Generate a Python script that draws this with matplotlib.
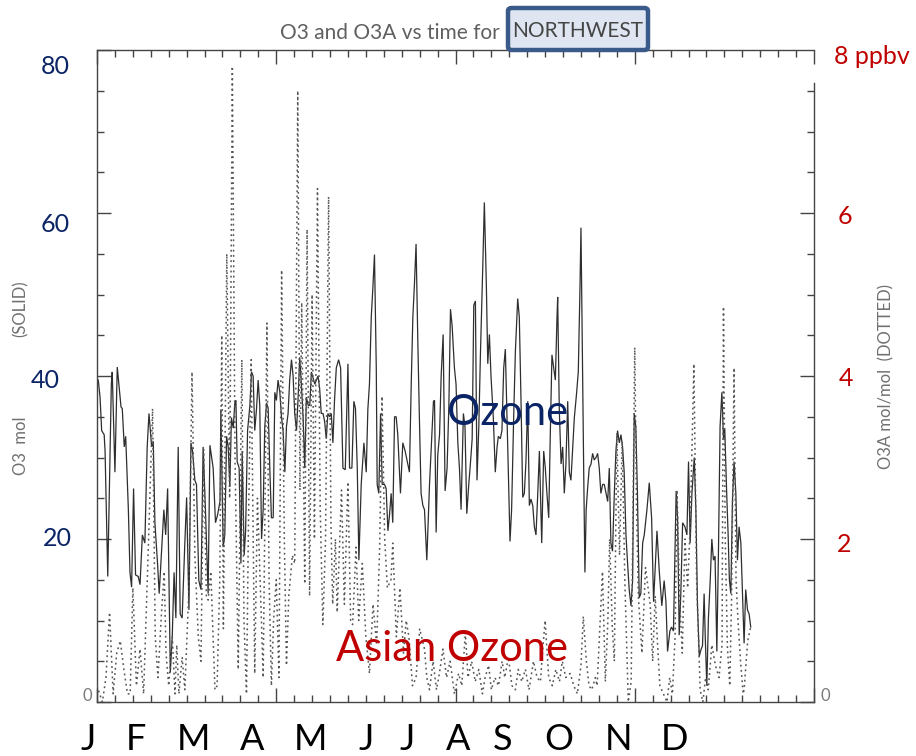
import matplotlib
matplotlib.use('Agg')
import matplotlib.pyplot as plt
from matplotlib.patches import FancyBboxPatch
from matplotlib.ticker import MultipleLocator, FixedLocator

# daily O3 (ppb) for the NORTHWEST region, day of year
o3_day = [0.7, 1.7, 2.6, 4.0, 4.5, 6.0, 8.0, 8.5, 10.0, 11.3, 13.4, 14.1, 15.2, 16.0, 17.5, 18.4, 19.3, 20.4,
          21.5, 23.0, 24.0, 25.3, 26.7, 28.0, 29.0, 30.5, 31.4, 32.3, 33.8, 34.7, 36.0, 37.3, 38.3, 39.4,
          40.9, 42.0, 43.0, 44.0, 45.3, 46.4, 47.5, 49.0, 50.0, 51.3, 52.4, 53.3, 54.6, 55.5, 56.8, 58.0,
          59.2, 60.5, 62.0, 63.0, 64.8, 66.1, 67.3, 68.6, 69.1, 70.4, 71.3, 72.3, 73.2, 74.1, 75.0, 76.0,
          76.9, 77.5, 78.2, 79.3, 80.3, 81.0, 82.1, 82.9, 84.0, 85.3, 86.2, 87.1, 88.0, 89.0, 89.9, 90.8,
          91.8, 92.7, 93.6, 94.6, 95.5, 96.4, 97.3, 98.3, 99.2, 100.1, 101.0, 102.0, 102.9, 103.8, 104.8,
          105.7, 106.6, 107.5, 108.5, 109.4, 110.3, 111.3, 112.2, 113.1, 114.0, 115.0, 115.9, 116.8, 117.8,
          118.7, 119.6, 121.5, 123.3, 124.2, 125.1, 126.1, 127.0, 127.9, 128.8, 129.8, 130.7, 131.6, 132.5,
          133.5, 134.8, 135.9, 137.2, 138.5, 140.0, 140.9, 142.2, 143.3, 144.2, 145.2, 146.1, 147.4, 148.9,
          150.2, 151.1, 152.0, 153.0, 153.9, 154.8, 155.8, 156.3, 157.2, 158.2, 159.1, 160.4, 161.3, 162.3,
          163.2, 164.1, 165.0, 166.0, 166.9, 167.8, 169.3, 170.6, 171.9, 173.4, 174.3, 175.3, 176.2, 177.1,
          178.0, 179.0, 179.9, 180.8, 181.8, 182.7, 184.0, 185.5, 186.8, 187.7, 188.3, 189.2, 190.1, 191.1,
          192.0, 193.1, 194.2, 195.3, 196.3, 197.2, 198.1, 199.4, 200.3, 201.3, 202.2, 203.1, 204.4, 205.3,
          206.3, 207.4, 208.3, 209.3, 210.2, 211.1, 212.0, 213.0, 213.9, 215.2, 216.1, 217.2, 218.0, 218.9,
          219.8, 221.1, 222.2, 223.2, 223.9, 225.0, 225.9, 226.9, 227.8, 228.7, 229.7, 230.4, 231.3, 232.5,
          233.4, 234.7, 235.6, 236.6, 237.5, 238.4, 239.3, 240.3, 241.2, 242.1, 243.1, 244.0, 244.9, 245.8,
          246.8, 248.1, 249.2, 250.1, 251.0, 252.0, 252.9, 253.8, 254.8, 255.7, 256.6, 257.0, 257.9, 258.9,
          259.8, 260.7, 261.6, 262.6, 263.5, 264.4, 265.4, 266.3, 267.6, 268.5, 269.4, 270.0, 270.7, 271.5,
          272.2, 272.9, 273.7, 274.6, 275.6, 276.5, 277.4, 278.4, 279.3, 280.2, 281.1, 282.1, 283.0, 284.0,
          284.9, 285.8, 286.7, 287.6, 288.6, 289.5, 290.4, 291.4, 292.3, 293.2, 294.1, 295.1, 296.0, 296.9,
          297.9, 298.8, 299.7, 300.6, 301.5, 302.5, 303.4, 304.4, 305.3, 306.8, 308.1, 309.4, 310.5, 311.4,
          312.4, 313.7, 315.1, 316.4, 317.4, 318.3, 319.6, 320.5, 321.6, 323.1, 323.9, 324.8, 325.7, 326.7,
          328.0, 329.1, 330.0, 330.9, 331.9, 333.2, 334.1, 335.0, 336.0, 336.9, 337.8, 338.7, 339.3, 340.2,
          341.1, 342.1, 343.0, 343.9, 344.8, 345.8, 346.7, 347.6, 348.6, 349.5, 350.2, 351.2, 352.1, 352.8,
          353.6, 354.5, 355.4, 356.4, 357.3, 358.2, 359.2, 360.1, 361.0, 361.9, 362.9, 363.8, 364.7]
o3_ppb = [39.5, 37.4, 33.3, 32.8, 30.8, 15.4, 39.0, 40.5, 28.2, 41.1, 36.2, 36.0, 31.3, 32.6, 23.6, 15.9, 14.1, 26.2,
          15.6, 15.4, 14.4, 20.5, 19.5, 31.3, 35.4, 31.3, 32.0, 22.0, 16.9, 13.3, 18.5, 23.6, 20.5, 26.2,
          3.6, 8.2, 15.9, 10.3, 31.3, 10.8, 10.3, 19.5, 25.1, 11.3, 31.8, 30.8, 27.2, 26.7, 14.9, 13.8,
          31.3, 23.6, 13.3, 31.5, 28.7, 22.0, 23.0, 24.6, 35.9, 19.0, 20.5, 32.6, 31.3, 26.4, 34.9, 33.6,
          36.7, 37.0, 29.5, 28.7, 17.0, 30.8, 18.0, 21.0, 33.3, 36.4, 40.5, 40.0, 33.3, 36.0, 39.5, 36.4,
          20.0, 23.6, 33.8, 36.7, 36.0, 28.7, 22.6, 22.6, 38.0, 37.0, 39.5, 38.0, 35.0, 33.3, 28.2,
          33.8, 35.4, 39.5, 42.0, 40.0, 35.4, 33.3, 37.4, 42.3, 39.0, 34.9, 28.7, 37.4, 36.4,
          36.4, 40.5, 39.0, 40.0, 38.5, 35.4, 35.4, 34.4, 32.3, 35.4, 35.0, 35.4, 31.8, 37.0,
          41.0, 42.0, 41.0, 28.7, 28.5, 41.5, 28.7, 28.7, 36.9, 36.0, 28.7, 17.4, 26.7, 31.8,
          28.2, 35.9, 39.0, 47.2, 50.8, 54.9, 41.0, 26.7, 25.6, 35.4, 26.7, 26.7, 26.2, 21.0,
          23.0, 25.6, 22.0, 35.0, 35.0, 32.8, 25.6, 31.8, 30.8, 29.2, 28.2, 39.0, 47.2, 51.3,
          56.2, 44.0, 34.4, 25.6, 24.1, 23.6, 17.4, 26.7, 32.8, 36.9, 37.0, 20.8, 30.3, 32.8,
          40.0, 45.1, 25.9, 28.7, 36.4, 48.2, 46.2, 41.0, 39.0, 31.8, 28.7, 23.6, 35.4, 33.8,
          23.1, 26.7, 29.2, 32.3, 48.7, 49.2, 27.2, 33.8, 42.6, 53.3, 61.3, 51.3, 41.5, 45.1,
          40.0, 34.9, 28.2, 31.3, 32.6, 32.3, 33.3, 41.0, 43.3, 35.4, 26.2, 19.7, 23.6, 35.4,
          43.0, 49.5, 47.2, 36.4, 25.1, 25.6, 29.5, 36.9, 24.1, 24.9, 24.1, 21.5, 20.5, 25.1,
          30.8, 19.5, 30.8, 28.7, 25.6, 22.6, 33.0, 42.6, 41.0, 39.5, 47.0, 49.7, 35.9, 29.2,
          31.3, 25.6, 29.2, 36.9, 28.2, 27.2, 31.3, 34.9, 38.0, 40.5, 50.3, 58.2, 44.1, 28.7,
          15.9, 23.6, 26.2, 28.7, 29.2, 30.5, 29.7, 30.0, 30.5, 28.7, 25.6, 26.7, 26.7, 25.6,
          24.6, 28.7, 19.5, 18.5, 25.6, 30.8, 33.3, 31.8, 32.8, 31.3, 28.2, 20.5, 17.0, 13.8,
          11.8, 14.9, 35.4, 33.8, 25.6, 12.8, 13.3, 19.5, 20.5, 23.6, 26.9, 22.6, 12.3, 16.4,
          21.0, 16.0, 11.8, 14.9, 12.3, 6.2, 8.7, 9.2, 8.7, 25.9, 22.6, 8.2, 13.3, 22.0,
          21.5, 20.5, 29.5, 19.5, 25.6, 30.0, 23.6, 11.8, 5.6, 6.4, 6.9, 13.3, 8.2, 2.0,
          10.3, 14.9, 20.0, 17.4, 17.9, 6.2, 18.5, 33.8, 38.0, 32.3, 33.6, 26.2, 20.5, 15.0,
          13.3, 24.6, 29.5, 25.6, 17.4, 21.5, 19.5, 13.3, 7.2, 13.8, 11.3, 10.8, 9.2]

# Asian-origin O3 tracer (ppbv)
o3a_day = [0.0, 3.0, 5.0, 7.0, 9.0, 11.0, 13.0, 15.0, 17.0, 18.5, 20.0, 22.0, 24.0, 26.0, 28.5, 31.0, 32.5,
           34.0, 36.0, 37.5, 38.5, 40.0, 42.0, 43.5, 44.5, 45.7, 47.5, 49.0, 51.3, 53.0, 54.6, 56.5, 58.0,
           59.5, 61.0, 62.0, 63.5, 65.8, 67.0, 68.5, 69.6, 70.5, 72.4, 74.0, 75.5, 77.0, 78.8, 80.8, 82.0,
           83.4, 84.5, 86.0, 88.0, 89.5, 91.0, 92.7, 94.8, 96.0, 97.3, 98.5, 100.0, 101.5, 103.0, 104.5,
           105.7, 107.0, 109.0, 110.3, 112.0, 113.2, 114.2, 115.9, 117.2, 118.6, 120.0, 121.3, 123.0, 124.5,
           126.0, 127.5, 129.2, 130.5, 131.5, 133.0, 134.0, 136.4, 138.0, 140.0, 141.5, 142.6, 144.5, 146.0,
           148.0, 150.0, 152.0, 154.0, 156.0, 157.7, 159.0, 160.5, 162.0, 164.0, 165.0, 167.0, 169.0, 171.0,
           172.5, 174.0, 176.0, 178.0, 180.0, 182.7, 184.0, 185.5, 187.5, 189.4, 191.0, 193.0, 195.0, 197.0,
           199.4, 201.7, 203.5, 205.5, 207.0, 209.0, 211.0, 213.0, 215.0, 216.5, 218.5, 220.0, 222.0, 224.0,
           226.0, 227.5, 229.5, 231.5, 233.4, 235.0, 237.0, 239.0, 241.0, 243.5, 245.5, 247.4, 248.5, 250.0,
           252.0, 254.0, 256.0, 258.0, 259.6, 261.5, 264.0, 266.0, 268.0, 270.0, 271.3, 273.0, 274.5, 276.0,
           278.0, 279.0, 280.5, 282.0, 283.6, 285.0, 286.0, 287.5, 288.6, 290.0, 291.5, 293.0, 294.5, 296.4,
           298.0, 300.0, 301.0, 302.0, 304.0, 306.0, 308.6, 310.0, 311.4, 312.5, 314.0, 316.0, 318.0, 319.5,
           321.0, 322.5, 323.6, 325.0, 326.5, 328.0, 329.5, 331.0, 333.0, 334.5, 336.5, 338.0, 339.5, 341.0,
           343.0, 345.0, 347.0, 348.7, 349.5, 350.5, 351.7, 353.0, 354.0, 355.4, 356.5, 357.6, 359.0, 360.5,
           361.0, 363.0, 364.7]
o3a_ppbv = [0.2, 0.0, 0.3, 1.1, 0.1, 0.6, 0.75, 0.4, 0.1, 0.1, 1.4, 0.2, 0.65, 0.1, 1.8, 3.6, 0.8,
            0.3, 1.1, 1.6, 0.6, 0.2, 0.8, 0.1, 0.7, 0.1, 0.55, 0.15, 1.4, 4.05, 1.8, 0.8, 0.5,
            3.1, 1.3, 1.25, 1.6, 0.15, 0.2, 1.5, 4.5, 0.9, 5.5, 2.5, 7.8, 3.0, 0.4, 4.2, 1.0,
            0.1, 2.2, 4.2, 0.35, 2.5, 1.5, 0.3, 4.65, 1.5, 0.2, 1.0, 1.5, 0.3, 5.3, 2.0,
            0.45, 1.3, 1.8, 1.7, 7.5, 2.6, 4.9, 1.45, 5.8, 1.3, 5.0, 2.0, 6.3, 2.4,
            0.95, 2.0, 6.2, 2.2, 1.2, 2.0, 1.1, 2.6, 1.2, 2.7, 1.0, 0.95, 1.9, 1.0,
            1.7, 0.8, 0.35, 1.2, 0.7, 1.9, 3.75, 2.0, 1.4, 1.5, 1.95, 0.8, 1.4, 0.6,
            1.0, 0.8, 0.2, 0.3, 0.9, 0.65, 0.3, 0.15, 0.5, 0.15, 0.35, 0.65, 0.3, 0.5,
            0.1, 0.35, 0.2, 0.85, 0.3, 0.5, 0.25, 0.4, 0.1, 0.3, 0.45, 0.15, 0.3, 0.2,
            0.5, 0.3, 0.55, 0.2, 0.15, 0.4, 0.25, 0.4, 0.15, 0.5, 0.3, 0.25, 0.6, 1.0,
            0.3, 0.2, 0.4, 0.25, 0.5, 0.3, 0.35, 0.2, 0.1, 0.45, 1.05, 0.5, 0.2, 0.15,
            0.3, 0.2, 0.9, 1.6, 0.25, 1.0, 2.0, 0.9, 0.5, 3.3, 1.8, 3.2, 1.46, 0.0,
            0.25, 4.35, 2.4, 1.3, 0.6, 1.65, 1.2, 0.5, 1.3, 0.8, 0.2, 0.1, 0.0, 0.3,
            0.1, 0.8, 2.6, 1.3, 0.6, 2.0, 1.4, 2.2, 4.15, 1.5, 0.15, 0.0, 0.3, 0.15,
            0.7, 0.45, 0.3, 0.7, 4.85, 2.0, 0.67, 0.2, 1.25, 4.1, 1.5, 1.0, 0.5, 0.1,
            0.15, 0.75, 0.92]

months = ['J', 'F', 'M', 'A', 'M', 'J', 'J', 'A', 'S', 'O', 'N', 'D']
month_px = [88, 136, 193, 252, 310, 366, 407, 458, 503, 559, 618, 675]
left_labels = ['80', '60', '40', '20']
left_label_px = [(55, 66), (55, 225), (45, 381), (57, 539)]
right_labels = ['8 ppbv', '6', '4', '2']
right_label_px = [(872, 56), (845, 217), (846, 379), (844, 545)]

W, H = 916, 756
NAVY = '#0b2466'
RED = '#c00000'
IDL_GRAY = '#606060'
AXCOL = '#444444'

fig = plt.figure(figsize=(W / 100, H / 100), dpi=100)


def fx(px):
    return px / W


def fy(py):
    return 1 - py / H


ax = fig.add_axes([fx(97), fy(702), (814 - 97) / W, (702 - 50) / H])
ax.set_xlim(0, 400)
ax.set_ylim(0, 80)
ax.plot(o3_day, o3_ppb, color='#2e2e2e', lw=0.9, solid_joinstyle='miter')

ax2 = ax.twinx()
ax2.set_ylim(0, 8)
ax2.plot(o3a_day, o3a_ppbv, color='#555555', lw=1.1, ls=(0, (1.2, 2.2)))

for s in ['left', 'top', 'bottom']:
    ax.spines[s].set_color(AXCOL)
    ax.spines[s].set_linewidth(1.0)
    ax2.spines[s].set_visible(False)
ax.spines['right'].set_visible(False)
ax2.spines['right'].set_color(AXCOL)
ax2.spines['right'].set_linewidth(1.0)
ax2.spines['right'].set_bounds(0, 7.6)

ax.xaxis.set_major_locator(MultipleLocator(100))
ax.xaxis.set_minor_locator(MultipleLocator(10))
ax.yaxis.set_major_locator(MultipleLocator(20))
ax.yaxis.set_minor_locator(MultipleLocator(5))
ax2.yaxis.set_major_locator(FixedLocator([0, 2, 4, 6]))
ax2.yaxis.set_minor_locator(FixedLocator([0.5 * i for i in range(16)]))

ax.tick_params(axis='both', which='both', direction='in', colors=AXCOL,
               top=True, bottom=True, left=True, right=False,
               labelbottom=False, labelleft=False)
ax.tick_params(which='major', length=10, width=1.0)
ax.tick_params(which='minor', length=5, width=1.0)
ax2.tick_params(axis='y', which='both', direction='in', colors=AXCOL, labelright=False)
ax2.tick_params(which='major', length=10, width=1.0)
ax2.tick_params(which='minor', length=5, width=1.0)

FONT = ['Lato', 'DejaVu Sans']

# title with the region name boxed
fig.text(fx(280), fy(33), 'O3 and O3A vs time for', color=IDL_GRAY, fontsize=15,
         family=FONT, ha='left', va='center')
box = FancyBboxPatch((fx(508), fy(50)), (648 - 508) / W, (50 - 8) / H,
                     boxstyle='round,pad=0,rounding_size=0.004', transform=fig.transFigure,
                     fc='#dfe6f1', ec='#3a5a8a', lw=3.2, zorder=5)
fig.patches.append(box)
fig.text(fx(578), fy(31), 'NORTHWEST', color='#454545', fontsize=15, family=FONT,
         ha='center', va='center', zorder=6)

# axis titles
fig.text(fx(21), fy(446), 'O3  mol', rotation=90, color='#707070', fontsize=12,
         family=FONT, ha='center', va='center')
fig.text(fx(21), fy(309), '(SOLID)', rotation=90, color='#707070', fontsize=12,
         family=FONT, ha='center', va='center')
fig.text(fx(886), fy(377), 'O3A mol/mol  (DOTTED)', rotation=90, color='#707070', fontsize=12,
         family=FONT, ha='center', va='center')

# tick value labels
for lab, (px, py) in zip(left_labels, left_label_px):
    fig.text(fx(px), fy(py), lab, color=NAVY, fontsize=18, family=FONT, ha='center', va='center')
for lab, (px, py) in zip(right_labels, right_label_px):
    fig.text(fx(px), fy(py), lab, color=RED, fontsize=18, family=FONT, ha='center', va='center')
fig.text(fx(87), fy(696), '0', color='#7a7a7a', fontsize=12, family=FONT, ha='center', va='center')
fig.text(fx(825), fy(696), '0', color='#7a7a7a', fontsize=12, family=FONT, ha='center', va='center')

for m, px in zip(months, month_px):
    fig.text(fx(px), fy(740), m, color='black', fontsize=26, family=FONT, ha='center', va='center')

fig.text(fx(508), fy(413), 'Ozone', color=NAVY, fontsize=30, family=FONT, ha='center', va='center')
fig.text(fx(452), fy(649), 'Asian Ozone', color=RED, fontsize=30, family=FONT, ha='center', va='center')

fig.savefig('out.png', dpi=100)
